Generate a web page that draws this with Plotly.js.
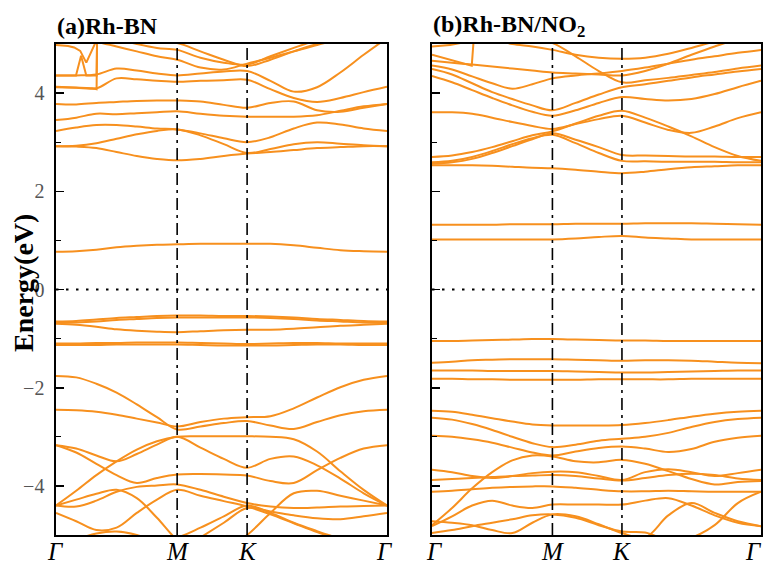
<!DOCTYPE html>
<html><head><meta charset="utf-8">
<script src="https://cdn.plot.ly/plotly-3.0.1.min.js"></script>
<style>html,body{margin:0;padding:0;background:#fff}#chart{width:764px;height:565px}</style>
</head><body><div id="chart"></div>
<script>
// k-path: Γ - M - K - Γ (ΓM = 1)
const kPath = [0, 0.1667, 0.3333, 0.5, 0.6667, 0.8333, 1, 1.1925, 1.385, 1.5774, 1.77, 1.9623, 2.1547, 2.347, 2.5396, 2.7321];
const kTickVals = [0, 1, 1.5774, 2.7321];
const kTickText = ['Γ', 'M', 'K', 'Γ'];
const panelTitles = ['(a)Rh-BN', '(b)Rh-BN/NO<sub>2</sub>'];
const yTitle = 'Energy(eV)';

// ---- panel (a) Rh-BN ----
const aUpper = [
  [2.92,2.91,2.88,2.80,2.72,2.66,2.63,2.66,2.72,2.77,2.80,2.84,2.88,2.90,2.92,2.92],
  [2.92,2.93,2.98,3.07,3.16,3.23,3.26,3.14,2.96,2.78,2.86,2.96,3.00,2.97,2.94,2.92],
  [3.23,3.30,3.35,3.35,3.32,3.28,3.26,3.18,3.08,3.00,3.10,3.28,3.40,3.36,3.28,3.23],
  [3.45,3.50,3.58,3.57,3.59,3.61,3.63,3.58,3.54,3.52,3.52,3.52,3.55,3.64,3.73,3.78],
  [3.78,3.77,3.80,3.82,3.84,3.85,3.85,3.83,3.76,3.70,3.80,3.83,3.65,3.62,3.70,3.78],
  [4.12,4.11,4.10,4.30,4.28,4.25,4.23,4.25,4.26,4.27,4.08,3.90,3.82,3.90,4.02,4.13],
  [4.36,4.36,4.38,4.50,4.46,4.40,4.36,4.40,4.44,4.45,4.25,4.03,4.12,4.42,4.78,5.12],
  [5.30,5.20,5.05,4.95,4.85,4.75,4.68,4.52,4.48,4.60,4.72,4.85,4.98,5.10,5.20,5.30],
  [5.40,5.30,5.20,5.10,5.00,4.92,4.88,4.72,4.62,4.58,4.75,4.92,5.08,5.20,5.30,5.40],
  [5.50,5.40,5.30,5.20,5.10,5.05,5.02,4.85,4.68,4.55,4.68,4.85,5.00,5.10,5.20,5.30]
];
const aGap = [
  [0.77,0.78,0.81,0.86,0.89,0.91,0.92,0.93,0.93,0.93,0.93,0.90,0.85,0.80,0.78,0.77],
  [-0.65,-0.64,-0.61,-0.58,-0.56,-0.54,-0.53,-0.53,-0.54,-0.54,-0.55,-0.57,-0.60,-0.62,-0.64,-0.65],
  [-0.68,-0.67,-0.65,-0.62,-0.60,-0.58,-0.57,-0.57,-0.57,-0.57,-0.58,-0.60,-0.63,-0.65,-0.67,-0.68],
  [-0.70,-0.72,-0.76,-0.81,-0.84,-0.86,-0.87,-0.85,-0.83,-0.82,-0.82,-0.80,-0.77,-0.74,-0.72,-0.70],
  [-1.10,-1.10,-1.09,-1.09,-1.08,-1.08,-1.08,-1.09,-1.10,-1.11,-1.10,-1.09,-1.09,-1.10,-1.10,-1.10],
  [-1.13,-1.13,-1.13,-1.12,-1.12,-1.12,-1.12,-1.13,-1.14,-1.14,-1.14,-1.13,-1.12,-1.12,-1.13,-1.13]
];
const aLower = [
  [-1.76,-1.79,-1.92,-2.10,-2.34,-2.60,-2.85,-2.79,-2.72,-2.68,-2.77,-2.84,-2.70,-2.56,-2.48,-2.45],
  [-2.45,-2.46,-2.49,-2.55,-2.63,-2.71,-2.79,-2.70,-2.63,-2.60,-2.58,-2.42,-2.20,-1.99,-1.84,-1.76],
  [-4.40,-4.10,-3.78,-3.50,-3.26,-3.09,-3.00,-2.99,-2.99,-2.99,-3.00,-3.05,-3.30,-3.70,-4.08,-4.40],
  [-3.17,-3.32,-3.55,-3.78,-3.94,-3.84,-3.77,-3.76,-3.77,-3.79,-3.90,-3.94,-3.68,-3.43,-3.24,-3.17],
  [-3.17,-3.24,-3.38,-3.50,-3.35,-3.16,-3.00,-3.22,-3.45,-3.63,-3.45,-3.40,-3.58,-3.85,-4.15,-4.40],
  [-4.40,-4.28,-4.16,-4.08,-4.25,-4.65,-5.10,-5.40,-5.30,-5.00,-4.55,-4.15,-4.10,-4.20,-4.30,-4.40],
  [-4.40,-4.42,-4.30,-4.12,-4.02,-3.99,-3.97,-4.08,-4.22,-4.35,-4.42,-4.45,-4.44,-4.42,-4.41,-4.40],
  [-4.55,-4.72,-4.90,-4.85,-4.55,-4.28,-4.08,-4.20,-4.31,-4.42,-4.58,-4.76,-4.94,-5.10,-5.25,-5.35],
  [-5.30,-5.10,-4.97,-4.93,-5.00,-5.15,-5.35,-5.05,-4.75,-4.45,-4.52,-4.60,-4.66,-4.68,-4.62,-4.55],
  [-5.60,-5.50,-5.40,-5.30,-5.20,-5.10,-5.05,-4.85,-4.62,-4.40,-4.55,-4.75,-4.92,-5.08,-5.25,-5.40]
];
// short zig-zag segments near Γ at the top of panel (a)
const aKinkK = [
  [0, 0.165, 0.207, 0.25, 0.335, 0.339],
  [0, 0.17, 0.30, 0.335, 0.339],
  [0, 0.10, 0.15, 0.20, 0.25, 0.30, 0.339]
];
const aKinkE = [
  [4.36, 4.36, 4.76, 4.36, 4.36, 5.10],
  [4.13, 4.12, 4.10, 4.08, 5.10],
  [4.98, 4.96, 4.93, 4.86, 4.62, 4.88, 5.10]
];

// ---- panel (b) Rh-BN/NO2 ----
const bUpper = [
  [2.53,2.53,2.53,2.52,2.50,2.48,2.47,2.44,2.40,2.37,2.40,2.45,2.49,2.51,2.53,2.53],
  [2.59,2.62,2.70,2.82,2.96,3.08,3.15,2.98,2.78,2.62,2.61,2.60,2.60,2.60,2.59,2.59],
  [2.70,2.73,2.80,2.90,3.02,3.14,3.22,3.38,3.54,3.64,3.50,3.32,3.12,2.90,2.72,2.62],
  [2.56,2.59,2.66,2.78,2.92,3.06,3.18,3.05,2.90,2.74,2.73,2.72,2.71,2.71,2.70,2.70],
  [3.61,3.61,3.58,3.50,3.41,3.33,3.27,3.37,3.47,3.54,3.40,3.25,3.19,3.32,3.49,3.61],
  [4.35,4.22,4.06,3.90,3.75,3.62,3.54,3.65,3.80,3.92,3.88,3.85,3.88,3.98,4.12,4.25],
  [4.49,4.38,4.20,4.02,3.88,3.75,3.65,3.80,3.97,4.12,4.18,4.25,4.32,4.38,4.44,4.49],
  [4.56,4.48,4.34,4.20,4.09,4.18,4.30,4.36,4.40,4.45,4.52,4.60,4.68,4.75,4.82,4.88],
  [5.40,5.30,5.20,5.10,5.00,4.95,4.88,4.78,4.72,4.70,4.72,4.80,4.92,5.05,5.15,5.25],
  [5.60,5.50,5.40,5.30,5.20,5.10,5.02,4.75,4.45,4.22,4.26,4.31,4.37,4.43,4.50,4.56],
  [4.66,4.62,4.58,4.54,4.50,4.46,4.42,4.40,4.38,4.36,4.45,4.60,4.78,4.95,5.10,5.20]
];
const bGap = [
  [1.32,1.32,1.32,1.32,1.33,1.33,1.33,1.34,1.34,1.34,1.35,1.35,1.35,1.34,1.33,1.32],
  [1.02,1.02,1.02,1.02,1.02,1.02,1.02,1.04,1.07,1.09,1.06,1.04,1.02,1.02,1.02,1.02],
  [-1.05,-1.05,-1.04,-1.03,-1.02,-1.01,-1.01,-1.02,-1.03,-1.04,-1.04,-1.05,-1.05,-1.05,-1.05,-1.05],
  [-1.49,-1.47,-1.44,-1.43,-1.42,-1.42,-1.42,-1.43,-1.44,-1.45,-1.44,-1.44,-1.45,-1.47,-1.49,-1.50],
  [-1.65,-1.65,-1.65,-1.66,-1.66,-1.66,-1.66,-1.67,-1.68,-1.69,-1.69,-1.68,-1.67,-1.66,-1.65,-1.65],
  [-1.82,-1.82,-1.83,-1.83,-1.84,-1.84,-1.84,-1.84,-1.83,-1.83,-1.83,-1.83,-1.82,-1.82,-1.82,-1.82]
];
const bLower = [
  [-2.47,-2.49,-2.55,-2.62,-2.69,-2.75,-2.77,-2.77,-2.77,-2.76,-2.72,-2.66,-2.59,-2.53,-2.49,-2.47],
  [-2.61,-2.65,-2.74,-2.86,-3.00,-3.13,-3.21,-3.16,-3.08,-3.04,-3.00,-2.92,-2.80,-2.70,-2.64,-2.61],
  [-2.98,-3.00,-3.05,-3.12,-3.22,-3.32,-3.38,-3.30,-3.23,-3.20,-3.24,-3.31,-3.25,-3.10,-3.02,-2.98],
  [-4.80,-4.45,-4.05,-3.72,-3.48,-3.38,-3.40,-3.50,-3.52,-3.47,-3.55,-3.70,-3.86,-3.97,-3.92,-3.90],
  [-3.67,-3.72,-3.80,-3.84,-3.80,-3.74,-3.71,-3.72,-3.80,-3.88,-3.72,-3.66,-3.72,-3.80,-3.74,-3.67],
  [-3.88,-3.86,-3.84,-3.82,-3.80,-3.79,-3.78,-3.80,-3.85,-3.89,-3.84,-3.78,-3.75,-3.78,-3.85,-3.88],
  [-4.12,-4.10,-4.07,-4.04,-4.02,-4.01,-4.01,-4.04,-4.08,-4.11,-4.11,-4.10,-4.11,-4.12,-4.12,-4.12],
  [-4.82,-4.62,-4.40,-4.30,-4.40,-4.45,-4.38,-4.38,-4.38,-4.38,-4.30,-4.25,-4.40,-4.60,-4.75,-4.82],
  [-4.72,-4.75,-4.80,-4.90,-4.96,-4.75,-4.58,-4.62,-4.78,-4.96,-5.05,-4.60,-4.35,-4.55,-4.72,-4.82],
  [-4.96,-4.90,-4.82,-4.75,-4.68,-4.60,-4.58,-4.65,-4.80,-4.93,-4.95,-5.10,-5.05,-4.80,-4.35,-4.12]
];
const bKinkK = [
  [0, 0.20, 0.33, 0.345],
  [0, 0.15, 0.30]
];
const bKinkE = [
  [4.78, 4.64, 4.56, 5.05],
  [4.95, 4.98, 5.05]
];

const ORANGE = '#F7901E';
const SERIF = 'Liberation Serif, Times New Roman, serif';
const traces = [];
function addBand(k, e, p, smooth) {
  traces.push({
    x: k, y: e, xaxis: p === 2 ? 'x2' : 'x', yaxis: p === 2 ? 'y2' : 'y',
    mode: 'lines', hoverinfo: 'skip', showlegend: false,
    line: smooth ? {color: ORANGE, width: 2, shape: 'spline', smoothing: 1} : {color: ORANGE, width: 2}
  });
}
[aUpper, aGap, aLower].forEach(g => g.forEach(e => addBand(kPath, e, 1, true)));
aKinkK.forEach((k, i) => addBand(k, aKinkE[i], 1, false));
[bUpper, bGap, bLower].forEach(g => g.forEach(e => addBand(kPath, e, 2, true)));
bKinkK.forEach((k, i) => addBand(k, bKinkE[i], 2, false));

const W = 764, H = 565;
const yDom = [1 - 535 / H, 1 - 44 / H];
function xAx(dom) {
  return {domain: dom, range: [0, 2.7321], showline: true, mirror: true, linecolor: 'black', linewidth: 1.6,
    showgrid: false, zeroline: false, ticks: '', tickvals: kTickVals, showticklabels: false, fixedrange: true};
}
function yAx(labels, anchor) {
  return {domain: yDom, range: [-5, 5], anchor: anchor, showline: true, mirror: true, linecolor: 'black', linewidth: 1.6,
    showgrid: false, zeroline: false, tick0: 0, dtick: 2, ticks: 'inside', ticklen: 8, tickwidth: 1.6, tickcolor: 'black',
    minor: {dtick: 1, ticks: 'inside', ticklen: 5, tickwidth: 1.4, tickcolor: 'black', showgrid: false},
    showticklabels: labels, tickfont: {family: SERIF, size: 20, color: '#555'}, ticklabelstandoff: 6, fixedrange: true};
}
const shapes = [];
[['x', 'y'], ['x2', 'y2']].forEach(([xa, ya]) => {
  [kTickVals[1], kTickVals[2]].forEach(k => shapes.push({type: 'line', xref: xa, yref: ya, x0: k, x1: k, y0: -5, y1: 5,
    line: {color: 'black', width: 1.6, dash: '12px,5px,3px,5px'}}));
  shapes.push({type: 'line', xref: xa, yref: ya, x0: 0, x1: 2.7321, y0: 0, y1: 0,
    line: {color: 'black', width: 1.8, dash: '2.5px,7.5px'}});
});
const annotations = [
  {text: panelTitles[0], xref: 'paper', yref: 'paper', x: 55 / W, y: 1 - 26 / H, xanchor: 'left', yanchor: 'middle',
   showarrow: false, font: {family: SERIF, size: 24, color: 'black', weight: 'bold'}},
  {text: panelTitles[1], xref: 'paper', yref: 'paper', x: 431 / W, y: 1 - 26 / H, xanchor: 'left', yanchor: 'middle',
   showarrow: false, font: {family: SERIF, size: 24, color: 'black', weight: 'bold'}},
  {text: yTitle, xref: 'paper', yref: 'paper', x: 23 / W, y: 1 - 283 / H, xanchor: 'center', yanchor: 'middle',
   textangle: -90, showarrow: false, font: {family: SERIF, size: 28, color: 'black', weight: 'bold'}}
];
// k-point labels below each panel
[['x', 0], ['x2', 0]].forEach(([xa], p) => {
  kTickVals.forEach((k, i) => {
    let shift = 0;
    if (i === 3) shift = p === 0 ? -3 : -8;
    if (i === 0 && p === 1) shift = 2;
    annotations.push({text: kTickText[i], xref: xa, yref: 'paper', x: k, y: 1 - 551 / H, xanchor: 'center', yanchor: 'middle',
      xshift: shift, showarrow: false, font: {family: SERIF, size: 25, color: 'black', style: 'italic'}});
  });
});
const layout = {
  width: W, height: H, margin: {l: 0, r: 0, t: 0, b: 0}, paper_bgcolor: 'white', plot_bgcolor: 'white',
  xaxis: xAx([56 / W, 387 / W]), yaxis: yAx(true, 'x'),
  xaxis2: xAx([432 / W, 761 / W]), yaxis2: yAx(false, 'x2'),
  shapes: shapes, annotations: annotations
};
Plotly.newPlot('chart', traces, layout, {displayModeBar: false, staticPlot: true});
</script></body></html>
